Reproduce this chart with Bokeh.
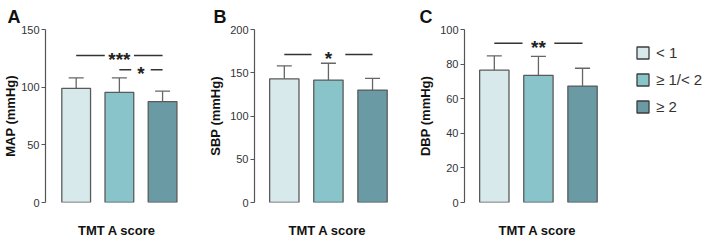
from bokeh.plotting import figure
from bokeh.layouts import row
from bokeh.models import (Range1d, ColumnDataSource, Whisker, TeeHead, Legend,
                          LegendItem, FixedTicker)
from bokeh.core.properties import value
from bokeh.embed import file_html
from bokeh.resources import INLINE

# ---------------- data ----------------
groups = ["< 1", "≥ 1/< 2", "≥ 2"]
x_title = "TMT A score"

map_mean = [99.0, 95.5, 87.5]
map_sd = [9.0, 12.5, 9.0]
sbp_mean = [143.0, 141.5, 130.0]
sbp_sd = [15.0, 19.5, 13.5]
dbp_mean = [76.5, 73.5, 67.3]
dbp_sd = [8.3, 11.0, 10.3]

map_ticks = [0, 50, 100, 150]
sbp_ticks = [0, 50, 100, 150, 200]
dbp_ticks = [0, 20, 40, 60, 80, 100]

# significance brackets: (from group, to group, level, label)
map_sig = [(1, 3, 127.5, "***"), (2, 3, 115.0, "*")]
sbp_sig = [(1, 3, 171.0, "*")]
dbp_sig = [(1, 3, 92.0, "**")]

# ---------------- style ----------------
FONT = "Liberation Sans"
bar_colors = ["#d8e9ec", "#89c4ca", "#6a9ba5"]
AXIS_C = "#555555"
SPAN = 3.31
FRAME_W = 147
PX = FRAME_W / SPAN


def make_panel(letter, ylabel, means, sds, sig, gaps, ticks, width, left,
               right, top, x0, letter_dx, label_standoff):
    p = figure(width=width, height=240, output_backend="svg",
               toolbar_location=None,
               x_range=Range1d(x0, x0 + SPAN),
               y_range=Range1d(0, ticks[-1]),
               min_border_left=left, min_border_right=right,
               min_border_top=top, min_border_bottom=35)
    p.outline_line_color = None
    p.grid.visible = False
    p.background_fill_color = "white"

    p.title.text = letter
    p.title.align = "left"
    p.title.vertical_align = "top"
    p.title.offset = letter_dx
    p.title.text_font = FONT
    p.title.text_font_size = "18px"
    p.title.text_font_style = "bold"
    p.title.text_color = "#111111"
    p.title.standoff = 2

    src = ColumnDataSource(dict(
        x=[1, 2, 3], top=means, upper=[m + s for m, s in zip(means, sds)],
        color=bar_colors, label=groups))
    p.vbar(x="x", top="top", bottom=0, width=0.665, fill_color="color",
           line_color="#5a5a5a", line_width=1.3, source=src)
    w = Whisker(base="x", lower="top", upper="upper", source=src,
                lower_head=None,
                upper_head=TeeHead(size=15, line_color="#666666",
                                   line_width=1.3),
                line_color="#666666", line_width=1.3)
    p.add_layout(w)

    for (a, b, yv, lab), g in zip(sig, gaps):
        mid = (a + b) / 2
        gd = g / PX
        p.segment(x0=[a, mid + gd], x1=[mid - gd, b], y0=[yv, yv],
                  y1=[yv, yv], line_color="#333333", line_width=1.5)
        p.text(x=[mid], y=[yv], text=[lab], text_align="center",
               text_baseline="middle", text_font=value(FONT),
               text_font_size="19px", text_font_style="bold",
               text_color="#222222", y_offset=4)

    yax = p.yaxis[0]
    yax.ticker = FixedTicker(ticks=ticks)
    yax.minor_tick_line_color = None
    yax.major_tick_in = 0
    yax.major_tick_out = 4
    yax.axis_line_color = AXIS_C
    yax.major_tick_line_color = AXIS_C
    yax.axis_line_width = 1.2
    yax.major_tick_line_width = 1.2
    yax.major_label_text_font = FONT
    yax.major_label_text_font_size = "11px"
    yax.major_label_text_color = "#333333"
    yax.major_label_standoff = 2
    yax.axis_label = ylabel
    yax.axis_label_text_font = FONT
    yax.axis_label_text_font_size = "13px"
    yax.axis_label_text_font_style = "bold"
    yax.axis_label_text_color = "#111111"
    yax.axis_label_standoff = label_standoff

    xax = p.xaxis[0]
    xax.ticker = FixedTicker(ticks=[])
    xax.axis_line_color = None
    xax.major_tick_line_color = None
    xax.minor_tick_line_color = None
    xax.major_tick_out = 0
    xax.major_label_standoff = 0
    xax.axis_label = x_title
    xax.axis_label_text_font = FONT
    xax.axis_label_text_font_size = "13px"
    xax.axis_label_text_font_style = "bold"
    xax.axis_label_text_color = "#111111"
    xax.axis_label_standoff = 20
    return p, src


pA, sA = make_panel("A", "MAP (mmHg)", map_mean, map_sd, map_sig, [15, 10],
                    map_ticks, 205, 41, 17, 29, 0.29, -38, 0)
pB, sB = make_panel("B", "SBP (mmHg)", sbp_mean, sbp_sd, sbp_sig, [17],
                    sbp_ticks, 210, 48, 15, 27, 0.324, -41, 4)
pC, sC = make_panel("C", "DBP (mmHg)", dbp_mean, dbp_sd, dbp_sig, [16],
                    dbp_ticks, 210, 48, 15, 27, 0.324, -45, 4)

# legend panel: key for the three score groups, built from a hidden proxy
# renderer that shares panel C's data (legend click_policy "none" keeps
# the items fully drawn)
pL = figure(width=83, height=240, output_backend="svg", toolbar_location=None,
            x_range=Range1d(0, 4), y_range=Range1d(0, 100),
            x_axis_location=None, y_axis_location=None,
            min_border_left=0, min_border_right=0, min_border_top=27,
            min_border_bottom=35)
pL.outline_line_color = None
pL.grid.visible = False
rL = pL.vbar(x="x", top="top", bottom=0, width=0.665, fill_color="color",
             line_color="#3c3c3c", line_width=1.3, source=sC)
rL.visible = False
legend = Legend(
    items=[LegendItem(label=g, renderers=[rL], index=i)
           for i, g in enumerate(groups)],
    location=(10, 87), orientation="vertical",
    glyph_width=15, glyph_height=15, label_height=15, spacing=10,
    padding=0, margin=0, label_standoff=6,
    border_line_color=None, background_fill_alpha=0,
    inactive_fill_alpha=0,
    label_text_font=FONT, label_text_font_size="15px",
    label_text_color="#333333")
pL.add_layout(legend)

layout = row(pA, pB, pC, pL, spacing=0)
open("out.html", "w").write(file_html(layout, INLINE))
